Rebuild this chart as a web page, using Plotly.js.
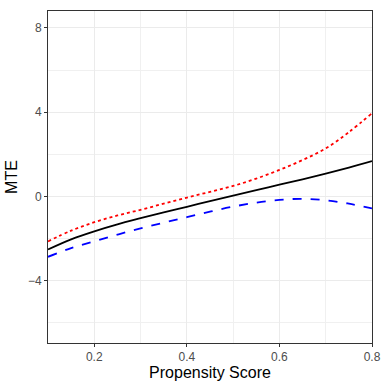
<!DOCTYPE html>
<html>
<head>
<meta charset="utf-8">
<script src="https://cdn.plot.ly/plotly-3.0.1.min.js"></script>
<style>
  html, body { margin: 0; padding: 0; background: #fff; }
  #root { width: 388px; height: 388px; }
</style>
</head>
<body>
<div id="root"></div>
<script>
// propensity score grid
var pscore = [0.1, 0.15, 0.2, 0.25, 0.3, 0.35, 0.4, 0.45, 0.5, 0.55, 0.6, 0.65, 0.7, 0.75, 0.8];

// MTE curves
var mteMain  = [-2.51, -2.03, -1.65, -1.32, -1.03, -0.75, -0.49, -0.22, 0.04, 0.30, 0.56, 0.81, 1.08, 1.37, 1.68];
var mteUpper = [-2.13, -1.62, -1.22, -0.90, -0.63, -0.34, -0.05, 0.22, 0.50, 0.85, 1.26, 1.73, 2.28, 3.05, 3.95];
var mteLower = [-2.86, -2.45, -2.12, -1.81, -1.51, -1.24, -0.98, -0.72, -0.48, -0.29, -0.16, -0.11, -0.18, -0.34, -0.56];

var yTicks = [-4, 0, 4, 8];
var xTicks = [0.2, 0.4, 0.6, 0.8];

var traces = [
    {
        x: pscore, y: mteUpper, mode: 'lines', type: 'scatter',
        line: { color: '#ff0000', width: 1.8, dash: 'dot', shape: 'spline' }
    },
    {
        x: pscore, y: mteLower, mode: 'lines', type: 'scatter',
        line: { color: '#0000ff', width: 1.8, dash: 'dash', shape: 'spline' }
    },
    {
        x: pscore, y: mteMain, mode: 'lines', type: 'scatter',
        line: { color: '#000000', width: 1.8, shape: 'spline' }
    }
];

var axisStyle = {
    showline: true,
    mirror: true,
    linecolor: '#333333',
    linewidth: 1,
    ticks: 'outside',
    ticklen: 3,
    tickcolor: '#333333',
    gridcolor: '#ebebeb',
    gridwidth: 1,
    zeroline: false,
    tickfont: { family: 'Liberation Sans, Arial, sans-serif', size: 12, color: '#4d4d4d' }
};

var layout = {
    width: 388,
    height: 388,
    margin: { l: 48, r: 16, t: 11, b: 45 },
    paper_bgcolor: '#ffffff',
    plot_bgcolor: '#ffffff',
    showlegend: false,
    xaxis: Object.assign({}, axisStyle, {
        range: [0.1, 0.8],
        tickvals: xTicks,
        minor: { dtick: 0.1, tick0: 0.1, showgrid: true, gridcolor: '#f0f0f0', ticks: '' },
        title: { text: 'Propensity Score', standoff: 3,
                 font: { family: 'Liberation Sans, Arial, sans-serif', size: 16, color: '#000' } }
    }),
    yaxis: Object.assign({}, axisStyle, {
        range: [-6.95, 8.8],
        tickvals: yTicks,
        minor: { dtick: 2, tick0: 0, showgrid: true, gridcolor: '#f0f0f0', ticks: '' },
        title: { text: 'MTE', standoff: 6,
                 font: { family: 'Liberation Sans, Arial, sans-serif', size: 16, color: '#000' } }
    })
};

Plotly.newPlot('root', traces, layout, { displayModeBar: false, staticPlot: true });
</script>
</body>
</html>
